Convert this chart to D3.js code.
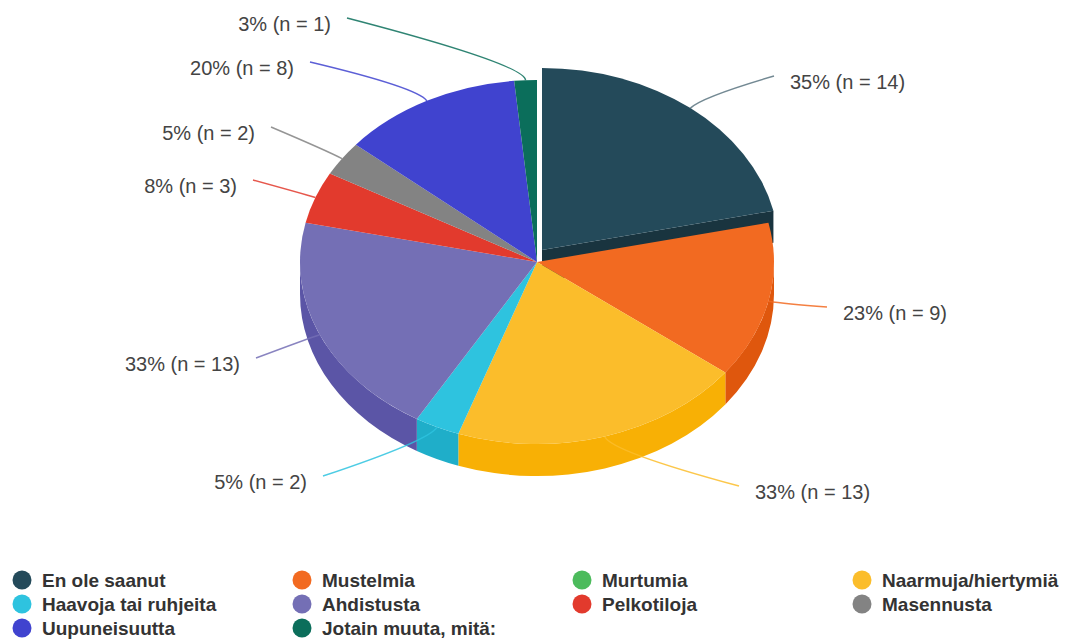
<!DOCTYPE html>
<html>
<head>
<meta charset="utf-8">
<script src="https://cdn.jsdelivr.net/npm/d3@7"></script>
<style>
  html, body { margin: 0; padding: 0; background: #fff; }
  svg { display: block; }
  text { font-family: "Liberation Sans", Arial, sans-serif; }
</style>
</head>
<body>
<svg id="chart" width="1077" height="641"></svg>
<script>
// Categories (answers) and respondent counts
const categories = [
  "En ole saanut", "Mustelmia", "Murtumia", "Naarmuja/hiertymiä",
  "Haavoja tai ruhjeita", "Ahdistusta", "Pelkotiloja", "Masennusta",
  "Uupuneisuutta", "Jotain muuta, mitä:"
];
const counts = [14, 9, 0, 13, 2, 13, 3, 2, 8, 1];
const respondents = 40;
const colors = [
  "#244a5a", "#f26a21", "#4cbb5c", "#fbbd2b",
  "#2ec3df", "#746fb5", "#e23a2d", "#838383",
  "#4043cf", "#0b6e5b"
];
// Index of the slice pulled out of the pie
const explodedIndex = 0;

// Label placement: text anchor point and which side of the pie it sits on
const labelLayout = [
  { x: 790, y: 82,  side: "right" },
  { x: 843, y: 313, side: "right" },
  null,
  { x: 755, y: 492, side: "right" },
  { x: 307, y: 482, side: "left" },
  { x: 240, y: 364, side: "left" },
  { x: 237, y: 186, side: "left" },
  { x: 255, y: 133, side: "left" },
  { x: 294, y: 68,  side: "left" },
  { x: 331, y: 24,  side: "left" }
];

const svg = d3.select("#chart");

// Pie geometry (tilted ellipse with depth)
const cx = 537, cy = 262, rx = 237, ry = 182, depth = 32;
const explode = { dx: 5, dy: -12 };

const pie = d3.pie().sort(null).value(d => d)(counts);

const pt = (a, off = { dx: 0, dy: 0 }, h = 0) =>
  [cx + rx * Math.sin(a) + off.dx, cy - ry * Math.cos(a) + off.dy + h];
const offOf = i => (i === explodedIndex ? explode : { dx: 0, dy: 0 });
// Side shade: same hue, lower lightness
const sideColor = c => {
  const h = d3.hsl(c);
  h.l *= 0.86;
  return h.formatHex();
};

const gSides = svg.append("g");
const gWalls = svg.append("g");
const gTops = svg.append("g");
const gLines = svg.append("g");
const gLabels = svg.append("g");

// Outer side walls on the front half of the rim
pie.forEach((p, i) => {
  if (p.value === 0) return;
  const s = Math.max(p.startAngle, Math.PI / 2);
  const e = Math.min(p.endAngle, 3 * Math.PI / 2);
  if (e <= s) return;
  const off = offOf(i);
  const large = e - s > Math.PI ? 1 : 0;
  const [x0, y0] = pt(s, off), [x1, y1] = pt(e, off);
  const path = `M${x0},${y0} A${rx},${ry} 0 ${large} 1 ${x1},${y1}` +
    ` L${x1},${y1 + depth} A${rx},${ry} 0 ${large} 0 ${x0},${y0 + depth} Z`;
  gSides.append("path").attr("d", path).attr("fill", sideColor(colors[i]));
});

// Cut face of the exploded slice facing the viewer
{
  const p = pie[explodedIndex];
  const off = explode;
  const [ex, ey] = pt(p.endAngle, off);
  const c0 = [cx + off.dx, cy + off.dy];
  const path = `M${c0[0]},${c0[1]} L${ex},${ey} L${ex},${ey + depth} L${c0[0]},${c0[1] + depth} Z`;
  gWalls.append("path").attr("d", path).attr("fill", d3.color(colors[explodedIndex]).darker(1).formatHex());
}

// Top faces
pie.forEach((p, i) => {
  if (p.value === 0) return;
  const off = offOf(i);
  const [x0, y0] = pt(p.startAngle, off), [x1, y1] = pt(p.endAngle, off);
  const large = p.endAngle - p.startAngle > Math.PI ? 1 : 0;
  const path = `M${cx + off.dx},${cy + off.dy} L${x0},${y0} A${rx},${ry} 0 ${large} 1 ${x1},${y1} Z`;
  gTops.append("path").attr("d", path).attr("fill", colors[i]);
});

// Leader lines and value labels
pie.forEach((p, i) => {
  const lay = labelLayout[i];
  if (p.value === 0 || !lay) return;
  const off = offOf(i);
  const mid = (p.startAngle + p.endAngle) / 2;
  const [ax, ay] = pt(mid, off);
  const ux = Math.sin(mid), uy = -Math.cos(mid) * ry / rx;
  const n = Math.hypot(ux, uy);
  const k = 16;
  const ctrl = [ax + ux / n * k, ay + uy / n * k];
  const end = [lay.side === "right" ? lay.x - 16 : lay.x + 16, lay.y - 6];
  const lineColor = i === explodedIndex ? "#5b7480" : colors[i];
  gLines.append("path")
    .attr("d", `M${ax},${ay} Q${ctrl[0]},${ctrl[1]} ${end[0]},${end[1]}`)
    .attr("fill", "none")
    .attr("stroke", lineColor)
    .attr("stroke-opacity", 0.85)
    .attr("stroke-width", 1.5);
  const pct = Math.round(p.value / respondents * 100);
  gLabels.append("text")
    .attr("x", lay.x).attr("y", lay.y)
    .attr("dy", "0.35em")
    .attr("text-anchor", lay.side === "right" ? "start" : "end")
    .attr("font-size", 20)
    .attr("fill", "#444")
    .text(`${pct}% (n = ${p.value})`);
});

// Legend: four columns, row-major
const legendX = d3.scalePoint().domain(d3.range(4)).range([22, 862]);
const legendY = d3.scalePoint().domain(d3.range(3)).range([580, 628]);
const legend = svg.append("g")
  .selectAll("g")
  .data(categories)
  .join("g")
  .attr("transform", (d, i) => `translate(${legendX(i % 4)},${legendY(Math.floor(i / 4))})`);
legend.append("circle").attr("r", 9.5).attr("fill", (d, i) => colors[i]);
legend.append("text")
  .attr("x", 20).attr("dy", "0.35em")
  .attr("font-size", 19).attr("font-weight", "bold")
  .attr("fill", "#333")
  .text(d => d);
</script>
</body>
</html>
